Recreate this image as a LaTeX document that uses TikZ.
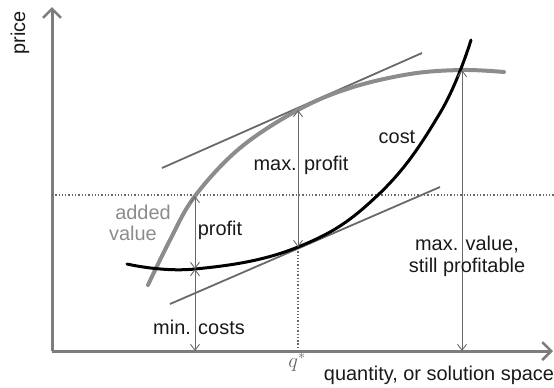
\documentclass[tikz,border=0pt]{standalone}
\usepackage{fontspec}
\setmainfont{Liberation Sans}
\usetikzlibrary{arrows.meta,positioning}
\definecolor{axisgray}{RGB}{125,125,125}
\definecolor{valuegray}{RGB}{140,140,140}
\definecolor{linegray}{RGB}{105,105,105}
\tikzstyle{axis} = [line width=3bp,axisgray,arrows={-Straight Barb[length=9bp,width=18bp,line width=2.5bp]}]
\tikzstyle{guide} = [line width=1.3bp,linegray,dotted]
\tikzstyle{value} = [line width=4bp,valuegray,line cap=round]
\tikzstyle{cost} = [line width=3bp,black,line cap=round]
\tikzstyle{tangent} = [line width=1.8bp,linegray]
\tikzstyle{measure} = [line width=0.9bp,linegray,arrows={Straight Barb[length=6bp,width=9bp]-Straight Barb[length=6bp,width=9bp]}]
\tikzstyle{annot} = [inner sep=0pt,font=\fontsize{20}{22}\selectfont,text=black!90]

\begin{document}
\begin{tikzpicture}[x=1bp,y=-1bp]
  \useasboundingbox (0,0) rectangle (554,387);
  % axes
  \coordinate (o) at (52,351);
  \coordinate (ytip) at (52,7);
  \coordinate (xtip) at (553,351);
  \draw[axis] (o) -- (ytip);
  \draw[axis] (o) -- (xtip);
  \node[annot,rotate=90] (ylab) at (20,33) {price};
  \node[annot] (xlab) at (439,375) {quantity, or solution space};

  % guides
  \coordinate (dl) at (52,195);
  \coordinate (dr) at (554,195);
  \coordinate (qtop) at (298,248);
  \coordinate (qbot) at (298,350);
  \draw[guide] (dl) -- (dr);
  \draw[guide] (qtop) -- (qbot);
  \node[inner sep=0pt,text=black!60,font=\fontsize{20}{22}\selectfont] (qstar) at (297,362) {$q^{*}$};

  % tangents
  \coordinate (ta) at (162,168);
  \coordinate (tb) at (422,53);
  \coordinate (tc) at (170,304);
  \coordinate (td) at (440,187);
  \draw[tangent] (ta) -- (tb);
  \draw[tangent] (tc) -- (td);

  % curves
  \draw[value] plot[smooth,tension=0.6] coordinates {(148,285) (170,240) (195,196) (240,148) (298,110) (350,88) (410,74) (462,70) (504,72)};
  \draw[cost] plot[smooth,tension=0.7] coordinates {(127,264) (195,269) (298,247) (378,195) (440,113) (471,40)};

  % measures
  \coordinate (pa) at (195,196);
  \coordinate (pb) at (195,269);
  \coordinate (pc) at (195,351);
  \coordinate (ma) at (298,110);
  \coordinate (mb) at (298,247);
  \coordinate (va) at (462,70);
  \coordinate (vb) at (462,351);
  \draw[measure] (pa) -- (pb);
  \draw[measure] (pb) -- (pc);
  \draw[measure] (ma) -- (mb);
  \draw[measure] (va) -- (vb);

  % labels
  \node[annot,text=valuegray] (added) at (143,212) {added};
  \node[annot,text=valuegray] (value) at (133,233) {value};
  \node[annot] (profit) at (220,230) {profit};
  \node[annot] (mincost) at (199,327) {min. costs};
  \node[annot] (maxprofit) at (301,165) {max. profit};
  \node[annot] (costlab) at (397,137) {cost};
  \node[annot,align=center] (maxvalue) at (467,256) {max. value,\\still profitable};
\end{tikzpicture}
\end{document}
